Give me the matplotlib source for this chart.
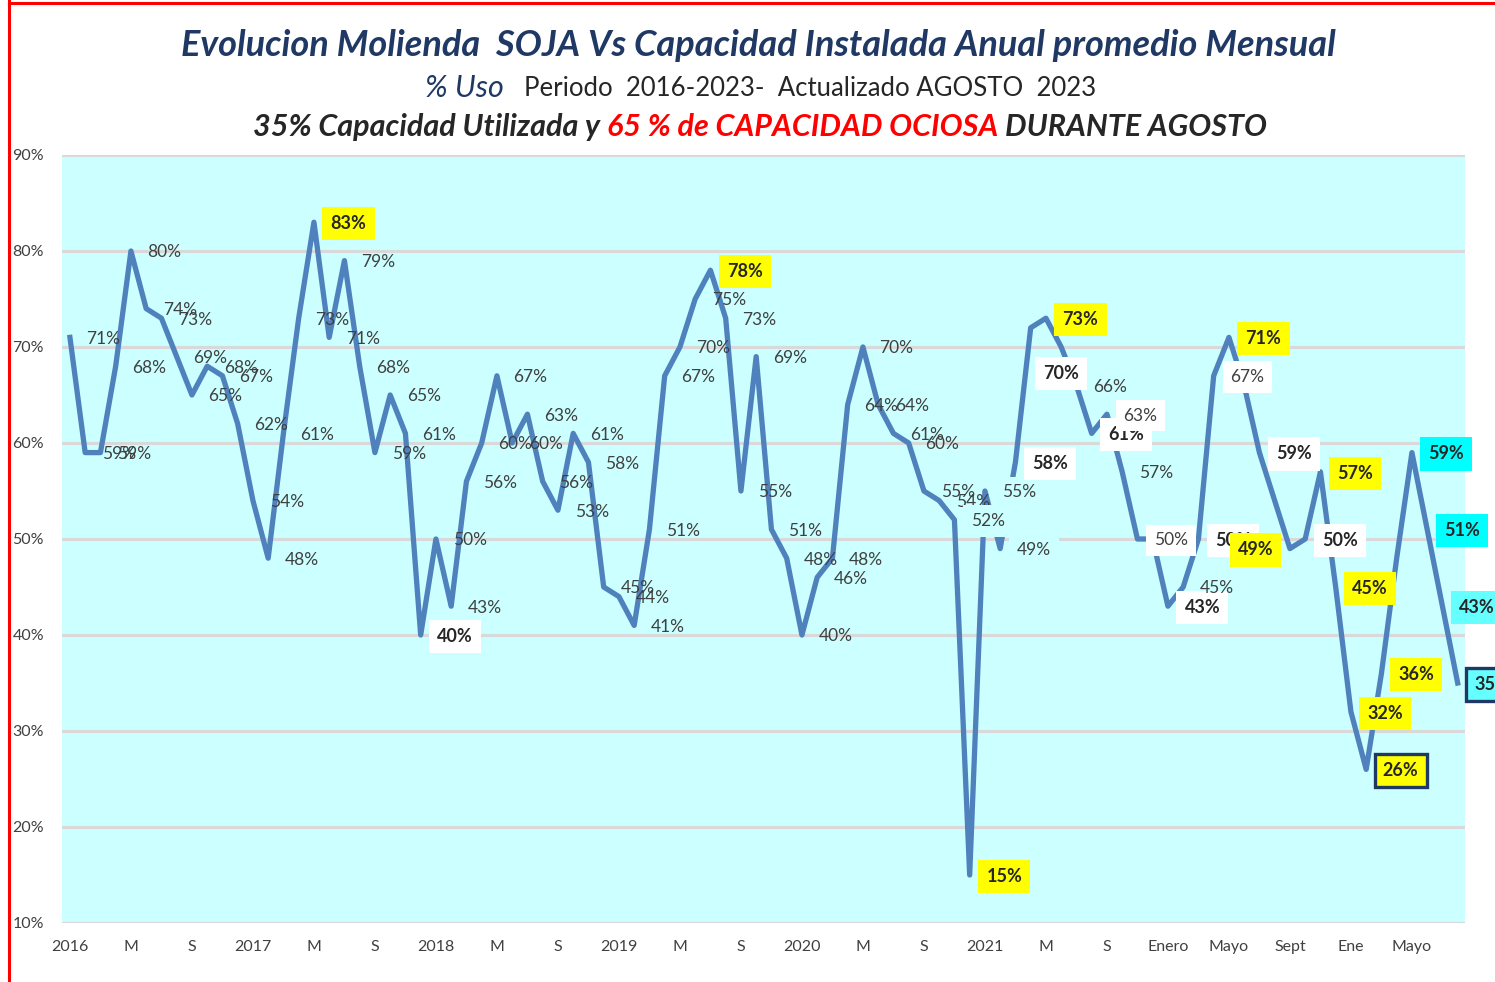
import numpy as np
import matplotlib.pyplot as plt

# % de uso de la capacidad instalada, mes a mes (ene-2016 .. ago-2023)
uso_2016 = [71, 59, 59, 68, 80, 74, 73, 69, 65, 68, 67, 62]
uso_2017 = [54, 48, 61, 73, 83, 71, 79, 68, 59, 65, 61, 40]
uso_2018 = [50, 43, 56, 60, 67, 60, 63, 56, 53, 61, 58, 45]
uso_2019 = [44, 41, 51, 67, 70, 75, 78, 73, 55, 69, 51, 48]
uso_2020 = [40, 46, 48, 64, 70, 64, 61, 60, 55, 54, 52, 15]
uso_2021 = [55, 49, 58, 72, 73, 70, 66, 61, 63, 57, 50, 50]
uso_2022 = [43, 45, 50, 67, 71, 66, 59, 54, 49, 50, 57, 45]
uso_2023 = [32, 26, 36, 48, 59, 51, 43, 35]

tick_labels = ["2016", "M", "S", "2017", "M", "S", "2018", "M", "S",
               "2019", "M", "S", "2020", "M", "S", "2021", "M", "S",
               "Enero", "Mayo", "Sept", "Ene", "Mayo"]

uso = np.array(uso_2016 + uso_2017 + uso_2018 + uso_2019 +
               uso_2020 + uso_2021 + uso_2022 + uso_2023)
meses = np.arange(len(uso))

# estilos de etiquetas (indice del mes)
sin_etiqueta = [63, 71, 77, 79, 87]
amarillo = [16, 42, 59, 64, 76, 80, 82, 83, 84, 85, 86]
blanco_negrita = [23, 62, 65, 67, 72, 74, 78, 81]
blanco = [68, 70, 75]
cian = {88: "#00FFFF", 89: "#00FFFF", 90: "#66FFFF", 91: "#66FFFF"}
fondo_plot = [58, 60, 61]
con_borde = [85, 91]

BG = "#CCFFFF"
FONT = "Lato"
W, H = 1495, 982

fig = plt.figure(figsize=(14.95, 9.82), dpi=100)
ax = fig.add_axes([62/W, 1 - 923/H, 1403/W, 768/H])
ax.set_facecolor(BG)

ax.plot(meses, uso, color="#4F81BD", lw=3.8, zorder=2)

ax.set_xlim(-0.52, 91.48)
ax.set_ylim(10, 90)
ax.set_yticks(np.arange(10, 91, 10))
ax.set_yticklabels([f"{v}%" for v in range(10, 91, 10)])
ax.set_xticks(np.arange(0, len(uso), 4))
ax.set_xticklabels(tick_labels)
ax.grid(axis="y", color="#D9D9D9", lw=2.2, zorder=1)
ax.set_axisbelow(True)
for s in ax.spines.values():
    s.set_visible(False)
ax.tick_params(axis="both", length=0, labelsize=11.5, labelcolor="#404040")
ax.tick_params(axis="y", pad=13)
ax.tick_params(axis="x", pad=12)
for t in ax.get_xticklabels() + ax.get_yticklabels():
    t.set_family(FONT)

for i, v in enumerate(uso):
    if i in sin_etiqueta:
        continue
    off = (12, -1)
    ha = "left"
    if i == 65:
        off, ha = (0, -19), "center"
    if i == 80:
        off, ha = (-12, -1), "right"
    peso = "normal"
    caja = None
    edge = "none"
    lw = 0
    if i in con_borde:
        edge, lw = "#1F3864", 2.4
    if i in amarillo:
        peso, caja = "bold", "#FFFF00"
    elif i in blanco_negrita:
        peso, caja = "bold", "white"
    elif i in blanco:
        caja = "white"
    elif i in cian:
        peso, caja = "bold", cian[i]
    elif i in fondo_plot:
        caja = BG
    bbox = None
    if caja is not None:
        bbox = dict(boxstyle="square,pad=0.45", fc=caja, ec=edge, lw=lw)
    ax.annotate(f"{v}%", (i, v), xytext=off, textcoords="offset points",
                ha=ha, va="center", fontsize=13 if peso == "bold" else 12.5,
                fontweight=peso, family=FONT,
                color="#262626" if peso == "bold" else "#404040",
                bbox=bbox, zorder=4, annotation_clip=False)

# titulos
navy = "#1F3864"
fig.text(758/W, 1 - 45/H,
         "Evolucion Molienda  SOJA Vs Capacidad Instalada Anual promedio Mensual",
         ha="center", va="center", fontsize=26, fontweight="bold",
         style="italic", color=navy, family=FONT)

renderer = fig.canvas.get_renderer()


def linea(x0, y, partes, gap):
    x = x0
    for texto, kw in partes:
        t = fig.text(x / W, 1 - y / H, texto, ha="left", va="center",
                     family=FONT, **kw)
        x += t.get_window_extent(renderer).width + gap


linea(425, 88, [("% Uso", dict(fontsize=22, style="italic", color=navy)),
                ("Periodo  2016-2023-  Actualizado AGOSTO  2023",
                 dict(fontsize=18.5, color="#262626"))], gap=20)

b3 = dict(fontsize=22, fontweight="bold", style="italic")
linea(253, 127, [("35% Capacidad Utilizada y", dict(color="#262626", **b3)),
                 ("65 % de CAPACIDAD OCIOSA", dict(color="#FF0000", **b3)),
                 ("DURANTE AGOSTO", dict(color="#262626", **b3))], gap=7)

# marco rojo
fig.add_artist(plt.Line2D([9/W, 9/W], [0, 1], color="red", lw=2.2))
fig.add_artist(plt.Line2D([9/W, 1], [1 - 3/H, 1 - 3/H], color="red", lw=2.2))

fig.savefig("out.png", dpi=100)
